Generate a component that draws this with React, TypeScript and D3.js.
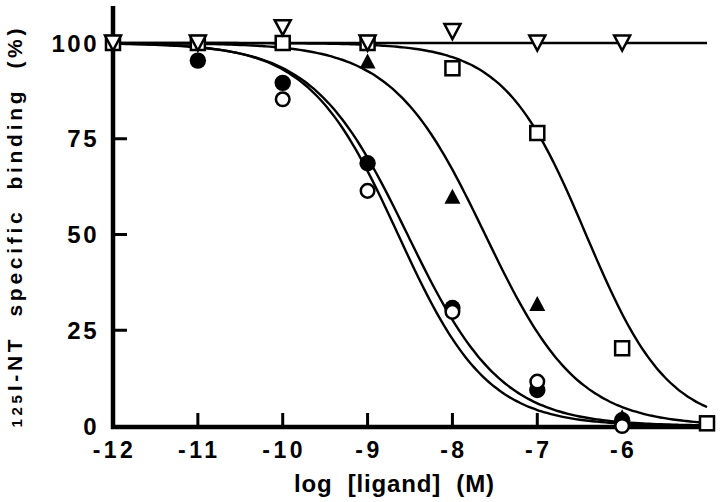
import * as d3 from 'd3';

// x axis (log M) and tick labels
const xTicks = [-12, -11, -10, -9, -8, -7, -6];
const yTicks = [0, 25, 50, 75, 100];

// open circles
const openCircleX = [-10, -9, -8, -7, -6];
const openCircleY = [85.3, 61.4, 29.8, 11.6, 0];
// filled circles
const filledCircleX = [-11, -10, -9, -8, -7, -6];
const filledCircleY = [95.4, 89.6, 68.6, 30.8, 9.4, 1.5];
// filled triangles
const filledTriX = [-9, -8, -7, -6];
const filledTriY = [95.3, 60, 32, 2.4];
// open squares
const squareX = [-12, -11, -10, -9, -8, -7, -6, -5];
const squareY = [100, 100, 100, 100, 93.4, 76.5, 20.3, 0.7];
// open inverted triangles
const invTriX = [-12, -11, -10, -9, -8, -7, -6];
const invTriY = [100, 100, 104, 100, 103, 100, 100];

// fitted sigmoid curves (logIC50, hill slope)
const fitLogIC50 = [-8.64, -8.53, -7.615, -6.426];
const fitHill = [0.83, 0.785, 0.795, 0.9];
const flatLevel = 100;

const font = '"Liberation Sans", Arial, Helvetica, sans-serif';

export default function App() {
  const width = 720;
  const height = 502;

  const x = d3.scaleLinear().domain([-12, -5]).range([113, 707]);
  const y = d3.scaleLinear().domain([0, 100]).range([426, 43]);

  const xs = d3.range(-12, -4.999, 0.05);
  const line = d3.line<[number, number]>()
    .x(d => x(d[0]))
    .y(d => y(d[1]))
    .curve(d3.curveMonotoneX);

  // sample the fitted model along x
  const curves = fitLogIC50.map((c, i) =>
    line(xs.map(v => [v, 100 / (1 + Math.pow(10, fitHill[i] * (v - c)))] as [number, number]))
  );

  const invTri = (cx: number, cy: number) => {
    const w = 8, h = 7.5;
    return `M${cx - w},${cy - h}L${cx + w},${cy - h}L${cx},${cy + h}Z`;
  };
  const upTri = (cx: number, cy: number) => {
    const w = 8, h = 7.5;
    return `M${cx - w},${cy + h}L${cx + w},${cy + h}L${cx},${cy - h}Z`;
  };

  return (
    <svg width={width} height={height}
      style={{ position: 'absolute', left: 0, top: 0, background: '#fff' }}>
      {/* 100% line */}
      <line x1={x(-12)} x2={x(-5)} y1={y(flatLevel)} y2={y(flatLevel)}
        stroke="#000" strokeWidth={2.5} />

      {/* fitted curves */}
      {curves.map((d, i) => (
        <path key={i} d={d ?? ''} fill="none" stroke="#000" strokeWidth={2.4} />
      ))}

      {/* axes */}
      <line x1={113} x2={113} y1={6} y2={429} stroke="#000" strokeWidth={4.5} />
      <line x1={111} x2={712} y1={427} y2={427} stroke="#000" strokeWidth={4.5} />

      {yTicks.filter(t => t > 0 && t < 100).map(t => (
        <line key={t} x1={113} x2={127} y1={y(t)} y2={y(t)} stroke="#000" strokeWidth={3} />
      ))}
      {xTicks.filter(t => t > -12).map(t => (
        <line key={t} x1={x(t)} x2={x(t)} y1={427} y2={413} stroke="#000" strokeWidth={3} />
      ))}

      {/* tick labels */}
      {yTicks.map(t => (
        <text key={t} x={99} y={y(t)} dy="0.36em" textAnchor="end"
          fontFamily={font} fontWeight="bold" fontSize={24} letterSpacing={2.5}>
          {t}
        </text>
      ))}
      {xTicks.map(t => (
        <text key={t} x={x(t) + 1.5} y={458} textAnchor="middle"
          fontFamily={font} fontWeight="bold" fontSize={23} letterSpacing={3.5}>
          {t}
        </text>
      ))}

      {/* axis titles */}
      <text x={394} y={492} textAnchor="middle" fontFamily={font} fontWeight="bold"
        fontSize={24} textLength={200} lengthAdjust="spacing" xmlSpace="preserve">
        log  [ligand]  (M)
      </text>
      <text transform="translate(21.5,228) rotate(-90)" textAnchor="middle"
        fontFamily={font} fontWeight="bold" fontSize={21} textLength={399}
        lengthAdjust="spacing" xmlSpace="preserve">
        <tspan fontSize={15}>125</tspan>I-NT  specific  binding  (%)
      </text>

      {/* squares */}
      {squareX.map((v, i) => (
        <rect key={i} x={x(v) - 7} y={y(squareY[i]) - 7} width={14} height={14}
          fill="#fff" stroke="#000" strokeWidth={2.5} />
      ))}
      {/* inverted triangles */}
      {invTriX.map((v, i) => (
        <path key={i} d={invTri(x(v), y(invTriY[i]))}
          fill="#fff" stroke="#000" strokeWidth={2.5} strokeLinejoin="miter" />
      ))}
      {/* filled triangles */}
      {filledTriX.map((v, i) => (
        <path key={i} d={upTri(x(v), y(filledTriY[i]))} fill="#000" />
      ))}
      {/* filled circles */}
      {filledCircleX.map((v, i) => (
        <circle key={i} cx={x(v)} cy={y(filledCircleY[i])} r={8.2} fill="#000" />
      ))}
      {/* open circles */}
      {openCircleX.map((v, i) => (
        <circle key={i} cx={x(v)} cy={y(openCircleY[i])} r={6.8}
          fill="#fff" stroke="#000" strokeWidth={2.5} />
      ))}
    </svg>
  );
}
